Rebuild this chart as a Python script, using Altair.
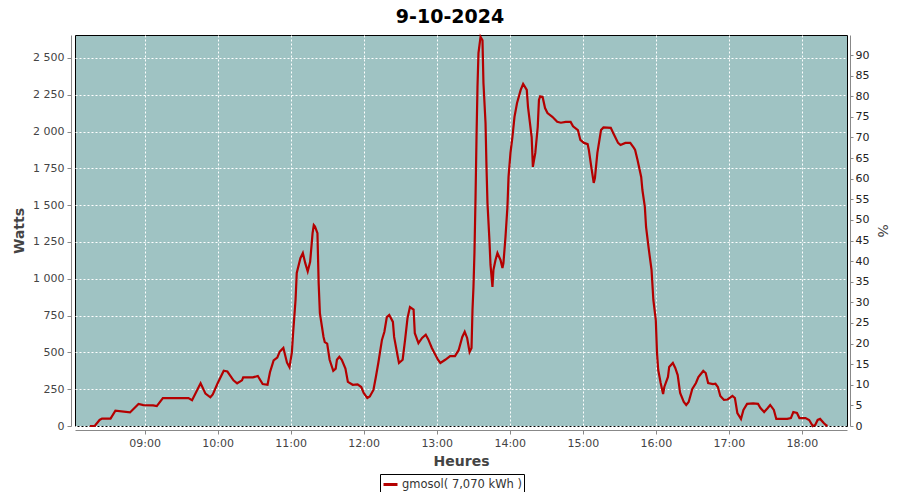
import altair as alt
import pandas as pd

# ---- data ----
times = [
    "08:15:00", "08:19:00", "08:23:00", "08:25:00", "08:32:00", "08:36:00", "08:48:00", "08:55:00",
    "08:59:00", "09:07:00", "09:10:00", "09:15:00", "09:36:00", "09:39:00", "09:46:00", "09:50:00",
    "09:54:00", "09:56:00", "10:00:00", "10:05:00", "10:08:00", "10:13:00", "10:16:00", "10:20:00",
    "10:21:00", "10:29:00", "10:33:00", "10:37:00", "10:41:00", "10:43:00", "10:46:00", "10:49:00",
    "10:51:00", "10:54:00", "10:57:00", "10:59:00", "11:01:00", "11:02:00", "11:04:00", "11:05:00",
    "11:08:00", "11:10:00", "11:12:00", "11:14:00", "11:16:00", "11:18:00", "11:19:00", "11:20:00",
    "11:22:00", "11:23:00", "11:24:00", "11:27:00", "11:28:00", "11:30:00", "11:32:00", "11:35:00",
    "11:37:00", "11:38:00", "11:40:00", "11:42:00", "11:45:00", "11:47:00", "11:51:00", "11:55:00",
    "11:58:00", "12:00:00", "12:03:00", "12:05:00", "12:08:00", "12:10:00", "12:12:00", "12:15:00",
    "12:17:00", "12:19:00", "12:21:00", "12:24:00", "12:25:00", "12:28:00", "12:29:00", "12:32:00",
    "12:34:00", "12:36:00", "12:38:00", "12:41:00", "12:42:00", "12:45:00", "12:48:00", "12:51:00",
    "12:53:00", "12:56:00", "13:01:00", "13:03:00", "13:07:00", "13:11:00", "13:15:00", "13:18:00",
    "13:21:00", "13:23:00", "13:25:00", "13:27:00", "13:28:36", "13:29:24", "13:30:12", "13:31:00",
    "13:31:54", "13:32:42", "13:33:30", "13:34:18", "13:36:00", "13:37:36", "13:38:24", "13:40:06",
    "13:40:54", "13:41:42", "13:43:18", "13:44:12", "13:45:48", "13:46:36", "13:48:18", "13:49:54",
    "13:52:24", "13:54:00", "13:54:48", "13:56:30", "13:58:06", "13:59:00", "14:00:36", "14:02:12",
    "14:03:54", "14:06:00", "14:09:00", "14:11:00", "14:14:00", "14:15:00", "14:18:00", "14:19:00",
    "14:21:00", "14:23:00", "14:24:00", "14:25:00", "14:27:00", "14:29:00", "14:31:00", "14:35:00",
    "14:39:00", "14:42:00", "14:46:00", "14:50:00", "14:52:00", "14:56:00", "14:58:00", "15:01:00",
    "15:04:00", "15:05:00", "15:07:00", "15:09:00", "15:10:00", "15:12:00", "15:15:00", "15:17:00",
    "15:23:00", "15:25:00", "15:29:00", "15:31:00", "15:35:00", "15:39:00", "15:42:00", "15:43:00",
    "15:45:00", "15:48:00", "15:49:00", "15:51:00", "15:52:00", "15:54:00", "15:56:30", "15:58:00",
    "16:00:00", "16:01:00", "16:02:00", "16:04:00", "16:06:00", "16:07:00", "16:10:00", "16:11:00",
    "16:14:00", "16:16:00", "16:18:00", "16:20:00", "16:23:00", "16:25:00", "16:27:00", "16:30:00",
    "16:33:00", "16:35:00", "16:39:00", "16:41:00", "16:43:00", "16:47:00", "16:49:00", "16:51:00",
    "16:53:00", "16:56:00", "16:59:00", "17:03:00", "17:05:00", "17:07:00", "17:10:00", "17:12:00",
    "17:15:00", "17:20:00", "17:24:00", "17:26:00", "17:29:00", "17:32:00", "17:34:00", "17:37:00",
    "17:39:00", "17:43:00", "17:48:00", "17:51:00", "17:53:00", "17:56:00", "17:58:00", "18:03:00",
    "18:06:00", "18:09:00", "18:11:00", "18:13:00", "18:15:00", "18:18:00", "18:20:00", "18:21:00",
]
watts = [
    0, 0, 41, 50, 50, 104, 92, 150,
    142, 140, 135, 190, 190, 175, 290, 220,
    195, 215, 290, 375, 370, 310, 290, 310,
    330, 330, 340, 285, 280, 365, 445, 465,
    505, 530, 430, 400, 500, 630, 856, 1040,
    1140, 1175, 1106, 1050, 1115, 1310, 1365, 1355,
    1310, 970, 767, 605, 570, 560, 450, 375,
    390, 450, 470, 450, 390, 300, 280, 283,
    265, 225, 190, 200, 245, 333, 428, 585,
    640, 740, 754, 707, 605, 470, 428, 450,
    585, 733, 808, 790, 630, 563, 598, 620,
    590, 530, 450, 428, 450, 475, 475, 515,
    605, 640, 598, 503, 530, 790, 945, 1175,
    1555, 1963, 2303, 2533, 2643, 2620, 2330, 2058,
    1760, 1515, 1264, 1094, 945, 1060, 1128, 1175,
    1128, 1073, 1105, 1284, 1488, 1692, 1855, 1963,
    2100, 2194, 2283, 2323, 2283, 2167, 1963, 1760,
    1855, 2031, 2215, 2240, 2235, 2160, 2126, 2100,
    2066, 2060, 2066, 2066, 2036, 2010, 1943, 1923,
    1915, 1875, 1760, 1651, 1685, 1855, 2010, 2028,
    2025, 1990, 1923, 1909, 1923, 1923, 1889, 1875,
    1807, 1692, 1603, 1488, 1352, 1216, 1060, 856,
    720, 496, 380, 292, 217, 265, 333, 401,
    428, 394, 346, 224, 163, 143, 163, 251,
    292, 333, 374, 360, 292, 285, 287, 265,
    204, 177, 180, 204, 190, 88, 48, 109,
    150, 153, 150, 122, 95, 122, 143, 109,
    48, 48, 48, 54, 95, 88, 54, 54,
    41, 0, 7, 41, 48, 20, 5, 0,
]
series_name = "gmosol( 7,070 kWh )"
date_str = "2024-10-09"
title_text = "9-10-2024"
watt_ticks = list(range(0, 2501, 250))
pct_ticks = list(range(0, 91, 5))
hour_ticks = list(range(9, 19))
W_MAX = 2656
W_PER_PCT = 28

df = pd.DataFrame({
    "t": [f"{date_str}T{t}" for t in times],
    "W": watts,
    "serie": series_name,
})

FONT = "DejaVu Sans"
LINE_COLOR = "#b40000"

x_enc = alt.X(
    "t:T",
    scale=alt.Scale(domain=[
        alt.DateTime(year=2024, month=10, date=9, hours=8, minutes=2, seconds=48),
        alt.DateTime(year=2024, month=10, date=9, hours=18, minutes=37, seconds=6),
    ]),
    axis=alt.Axis(
        values=[alt.DateTime(year=2024, month=10, date=9, hours=h) for h in hour_ticks],
        format="%H:%M", title="Heures",
        grid=True, gridColor="white", gridDash=[2, 2], gridWidth=1, gridOpacity=1,
        domainColor="#888888", tickColor="#888888", tickSize=4, offset=4,
        labelColor="#444444", labelFont=FONT, labelFontSize=11, labelPadding=3,
        titleFont=FONT, titleFontSize=14, titleFontWeight="bold", titleColor="#444444",
        titlePadding=6,
    ),
)

line = alt.Chart(df).mark_line(strokeWidth=2.2, interpolate="linear").encode(
    x=x_enc,
    y=alt.Y(
        "W:Q",
        scale=alt.Scale(domain=[0, W_MAX], nice=False, zero=True),
        axis=alt.Axis(
            values=watt_ticks,
            labelExpr="replace(format(datum.value, ','), ',', ' ')",
            title="Watts", orient="left",
            grid=True, gridColor="white", gridDash=[2, 2], gridWidth=1, gridOpacity=1,
            domainColor="#888888", tickColor="#888888", tickSize=4, offset=4,
            labelColor="#444444", labelFont=FONT, labelFontSize=11, labelPadding=3,
            titleFont=FONT, titleFontSize=14, titleFontWeight="bold", titleColor="#444444",
            titlePadding=6,
        ),
    ),
    color=alt.Color(
        "serie:N",
        scale=alt.Scale(range=[LINE_COLOR]),
        legend=alt.Legend(
            title=None, orient="none", legendX=305, legendY=439,
            symbolType="stroke", symbolStrokeWidth=3, symbolSize=196,
            strokeColor="black", fillColor="white", padding=2,
            labelFont=FONT, labelFontSize=11.5, labelColor="#333333", labelOffset=3,
        ),
    ),
)

pct_layer = alt.Chart(df).transform_calculate(
    pct=f"datum.W / {W_PER_PCT}"
).mark_line(opacity=0).encode(
    x=alt.X("t:T"),
    y=alt.Y(
        "pct:Q",
        scale=alt.Scale(domain=[0, W_MAX / W_PER_PCT], nice=False, zero=True),
        axis=alt.Axis(
            values=pct_ticks, orient="right", title="%", grid=False,
            domainColor="#888888", tickColor="#888888", tickSize=3, offset=3,
            labelColor="#222222", labelFont=FONT, labelFontSize=11, labelPadding=2,
            titleFont=FONT, titleFontSize=14, titleFontWeight="normal", titleColor="#444444",
            titlePadding=6,
        ),
    ),
)

chart = alt.layer(line, pct_layer).resolve_scale(y="independent").properties(
    width=772,
    height=391,
    background="white",
    autosize=alt.AutoSizeParams(type="none"),
    padding={"left": 67, "top": 27, "right": 45, "bottom": 66},
    title=alt.Title(
        title_text, font=FONT, fontSize=19, fontWeight="bold", color="black",
        anchor="middle", offset=6, dx=-11,
    ),
).configure_view(
    fill="#9fc3c3", stroke="black", strokeWidth=1,
)

chart.save("out.html", embed_options={"renderer": "svg", "actions": False})
